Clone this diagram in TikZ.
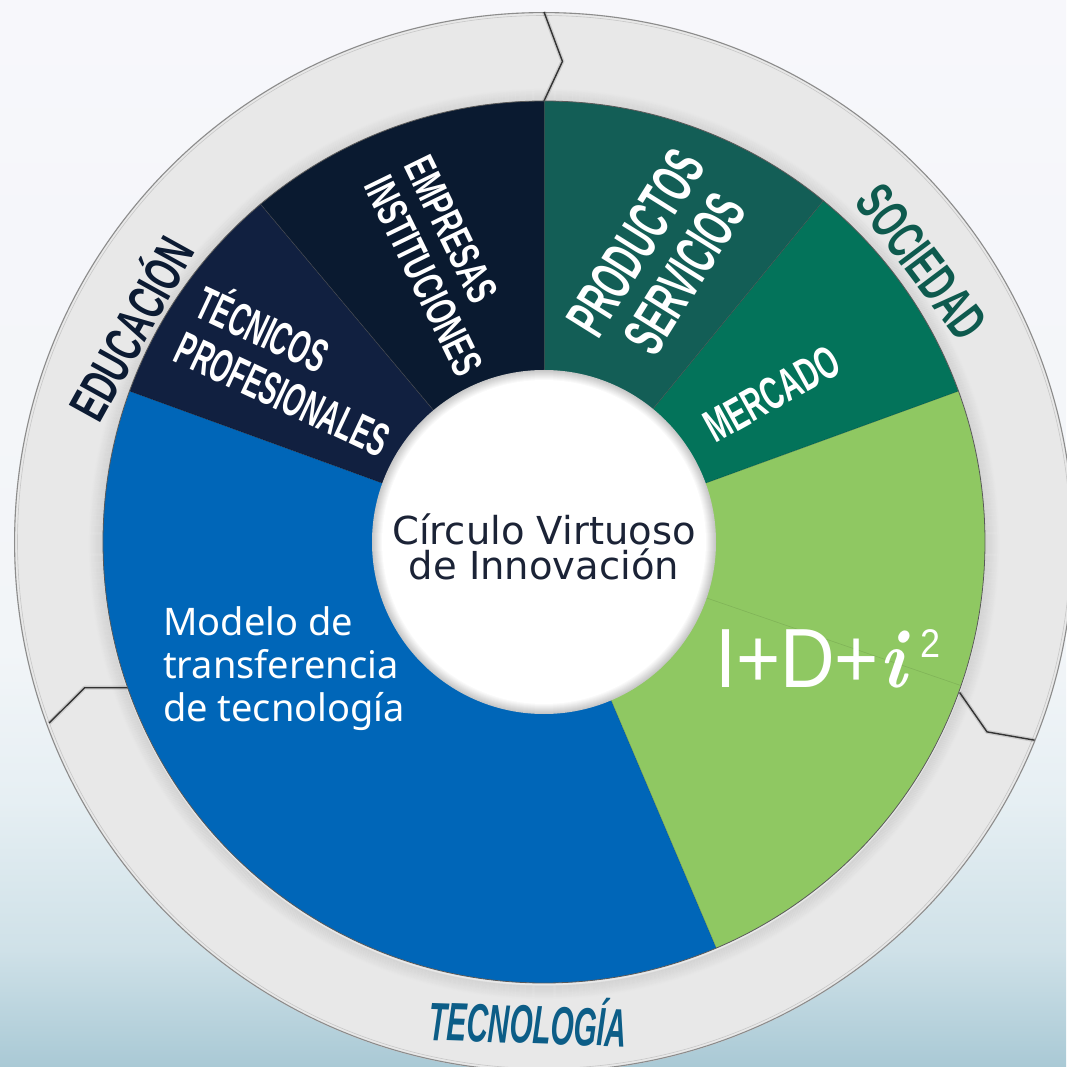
\documentclass[tikz,border=0pt]{standalone}
\usepackage{fontspec}
\setmainfont{Liberation Sans}
\newfontfamily\condf{Liberation Sans}
\newfontfamily\verdf{DejaVu Sans}
\newfontfamily\openf{Noto Sans}
\newfontfamily\lmrf{Latin Modern Roman}
\definecolor{bgTop}{HTML}{F7F7FB}
\definecolor{bgA}{HTML}{F2F5F8}
\definecolor{bgB}{HTML}{E6EFF3}
\definecolor{bgC}{HTML}{CFE1E8}
\definecolor{bgD}{HTML}{A9C9D5}
\definecolor{ringgray}{HTML}{E8E8E8}
\definecolor{empC}{HTML}{0A1A30}
\definecolor{tecnC}{HTML}{112040}
\definecolor{prodC}{HTML}{135E56}
\definecolor{mercC}{HTML}{03735A}
\definecolor{limeC}{HTML}{8FC862}
\definecolor{blueC}{HTML}{0066B8}
\definecolor{eduT}{HTML}{0C1B33}
\definecolor{socT}{HTML}{0E5A4E}
\definecolor{tecT}{HTML}{0C5D87}
\definecolor{centT}{HTML}{1B2336}
\pgfdeclareverticalshading{bgshade}{100bp}{color(0bp)=(bgD); color(25bp)=(bgD); color(30.5bp)=(bgC); color(37.5bp)=(bgB); color(44.5bp)=(bgA); color(75bp)=(bgTop); color(100bp)=(bgTop)}
\tikzset{
  sepline/.style={draw=black!70, line width=0.7pt, opacity=0.6},
  divider/.style={draw=black!80, line width=1.4pt, line join=round},
  dividerblur/.style={draw=black, line width=4pt, line join=round, opacity=0.12},
  condlabel/.style={inner sep=0pt, align=left},
}
\begin{document}
\begin{tikzpicture}[x=1pt,y=1pt]
\useasboundingbox (-544,-525) rectangle (522,542);
\fill[shading=bgshade] (-544,-525) rectangle (522,542);
% outer ring
\fill[ringgray] (0,0) circle (530);
\draw[black!45, line width=1.1pt] (0,0) circle (529.4);
\draw[black!22, line width=0.6pt] (0,0) circle (526.5);
% shadow of disc on ring
\foreach \i in {1,...,14}{
  \pgfmathsetmacro\op{0.07*(1-\i/15)}
  \draw[black, opacity=\op, line width=1.2pt] (0,-2) circle ({441+\i});
}
% dividers of ring
\coordinate (t1) at (90:530); \coordinate (t2) at (87.8:481); \coordinate (t3) at (90:441);
\coordinate (r1) at (-22:529); \coordinate (r2) at (-23.2:482); \coordinate (r3) at (-19.9:442);
\coordinate (l1) at (200.1:527); \coordinate (l2) at (197.6:482); \coordinate (l3) at (199.3:441);
\foreach \a/\b/\c in {t1/t2/t3, r1/r2/r3, l1/l2/l3}{
  \draw[dividerblur] (\a) -- (\b) -- (\c);
  \draw[divider] (\a) -- (\b) -- (\c);
}
% disc sectors
\fill[blueC] (0,0) -- (160:441) arc[start angle=160, end angle=293, radius=441] -- cycle;
\fill[limeC] (0,0) -- (-67:441) arc[start angle=-67, end angle=20, radius=441] -- cycle;
\fill[mercC] (0,0) -- (20:441) arc[start angle=20, end angle=50.7, radius=441] -- cycle;
\fill[prodC] (0,0) -- (50.7:441) arc[start angle=50.7, end angle=90, radius=441] -- cycle;
\fill[empC] (0,0) -- (90:441) arc[start angle=90, end angle=130, radius=441] -- cycle;
\fill[tecnC] (0,0) -- (130:441) arc[start angle=130, end angle=160, radius=441] -- cycle;
\foreach \a in {50.7,90,130}{ \draw[sepline] (\a:171) -- (\a:441); }
\foreach \a in {20,160,-67}{ \draw[black, opacity=0.25, line width=0.5pt] (\a:171) -- (\a:441); }
\draw[black, opacity=0.1, line width=0.6pt] (-19:171) -- (-19:441);
\draw[black!65, line width=0.8pt] (0,0) circle (441);
% center white disc
\foreach \i in {0,...,10}{
  \pgfmathsetmacro\sh{22-2.2*\i}
  \fill[black!\sh] (0,0) circle ({172-\i});
}
\fill[white] (0,0) circle (161.5);
% center text
\node[font=\verdf\fontsize{38.5}{35}\selectfont, text=centT, align=center, inner sep=0pt] (center) at (0,-5) {Círculo Virtuoso\\de Innovación};
% sector texts
\node[condlabel, text=white, rotate=-25, xscale=0.57, font=\condf\bfseries\fontsize{47}{50}\selectfont] (tec) at (-249,174) {TÉCNICOS\\PROFESIONALES};
\node[condlabel, text=white, rotate=-64, xscale=0.65, font=\condf\bfseries\fontsize{43}{45}\selectfont] (emp) at (-100,276) {EMPRESAS\\INSTITUCIONES};
\node[condlabel, align=center, text=white, rotate=58, xscale=0.555, font=\condf\bfseries\fontsize{58}{58}\selectfont] (prod) at (116,284) {PRODUCTOS\\SERVICIOS};
\node[condlabel, text=white, rotate=29, xscale=0.62, font=\condf\bfseries\fontsize{46}{46}\selectfont] (merc) at (228,148) {MERCADO};
\node[text=white, font=\openf\fontsize{38}{43}\selectfont, align=left, anchor=west, inner sep=0pt] (modelo) at (-381,-127) {Modelo de\\transferencia\\de tecnología};
\node[anchor=base west, inner sep=0pt, text=white, xscale=0.9, font=\fontsize{84}{84}\selectfont] (idi) at (171,-146) {I+D+{\lmrf\bfseries\itshape i}\hspace{16pt}\raisebox{30pt}{\fontsize{40}{40}\selectfont 2}};
% ring labels
\node[condlabel, text=eduT, rotate=61, xscale=0.63, font=\condf\bfseries\fontsize{52}{52}\selectfont] (edu) at (-416,215) {EDUCACIÓN};
\node[condlabel, text=socT, rotate=-53, xscale=0.62, font=\condf\bfseries\fontsize{54}{54}\selectfont] (soc) at (378,280) {SOCIEDAD};
\node[condlabel, text=tecT, rotate=-2, xscale=0.55, font=\condf\bfseries\itshape\fontsize{54}{54}\selectfont] (tecno) at (-16,-478) {TECNOLOGÍA};
\end{tikzpicture}
\end{document}
